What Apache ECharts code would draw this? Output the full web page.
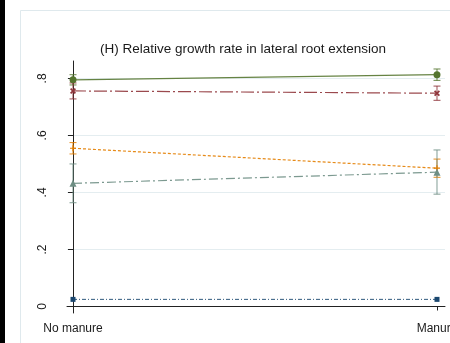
<!DOCTYPE html>
<html>
<head>
<meta charset="utf-8">
<script src="https://cdn.jsdelivr.net/npm/echarts@6/dist/echarts.min.js"></script>
<style>
  html, body { margin: 0; padding: 0; background: #fff; }
  #chart { width: 450px; height: 343px; }
</style>
</head>
<body>
<div id="chart"></div>
<script>
// Treatment groups on the x axis
const categories = ['No manure', 'Manure'];

// Mean relative growth rate per line, one value per treatment group
const greenMean  = [0.795, 0.813];
const maroonMean = [0.756, 0.748];
const orangeMean = [0.555, 0.485];
const tealMean   = [0.432, 0.471];
const navyMean   = [0.025, 0.025];

// Confidence interval bounds (low, high) per treatment group
const greenLow  = [0.777, 0.793];  const greenHigh  = [0.813, 0.833];
const maroonLow = [0.728, 0.723];  const maroonHigh = [0.784, 0.773];
const orangeLow = [0.535, 0.453];  const orangeHigh = [0.575, 0.517];
const tealLow   = [0.364, 0.394];  const tealHigh   = [0.500, 0.549];

// Y axis tick labels
const yTicks = [0, 0.2, 0.4, 0.6, 0.8];
const yTickText = ['0', '.2', '.4', '.6', '.8'];

const FONT = 'Liberation Sans, Arial, sans-serif';

const groups = [
  { name: 'green',  color: '#55752f', mean: greenMean,  low: greenLow,  high: greenHigh,
    symbol: 'circle', size: 7, dash: 'solid', width: 1.3 },
  { name: 'maroon', color: '#90353b', mean: maroonMean, low: maroonLow, high: maroonHigh,
    symbol: 'path://M2,0 L5,3 L8,0 L10,2 L7,5 L10,8 L8,10 L5,7 L2,10 L0,8 L3,5 L0,2 Z', size: 6,
    dash: [13, 3, 2, 3], width: 1.2 },
  { name: 'orange', color: '#e37e00', mean: orangeMean, low: orangeLow, high: orangeHigh,
    symbol: 'path://M4,0 H6 V4 H10 V6 H6 V10 H4 V6 H0 V4 H4 Z', size: 6,
    dash: [3, 2], width: 1.2 },
  { name: 'teal',   color: '#6e8e84', mean: tealMean,   low: tealLow,   high: tealHigh,
    symbol: 'triangle', size: 7, dash: [9, 3, 2, 3], width: 1.2 },
  { name: 'navy',   color: '#1a476f', mean: navyMean,   low: null,      high: null,
    symbol: 'rect', size: 5, dash: [4, 2, 1, 2], width: 1 }
];

const series = [];

// Error bars (vertical range with caps)
groups.forEach(g => {
  if (!g.low) return;
  series.push({
    type: 'custom',
    name: g.name + ' CI',
    z: 3,
    data: categories.map((c, i) => [i, g.low[i], g.high[i]]),
    renderItem(params, api) {
      const x = api.value(0);
      const pLo = api.coord([x, api.value(1)]);
      const pHi = api.coord([x, api.value(2)]);
      const w = 3.5;
      const st = { stroke: g.color, lineWidth: 1.1, opacity: 0.8 };
      return {
        type: 'group',
        children: [
          { type: 'line', shape: { x1: pLo[0], y1: pLo[1], x2: pHi[0], y2: pHi[1] }, style: st },
          { type: 'line', shape: { x1: pLo[0] - w, y1: pLo[1], x2: pLo[0] + w, y2: pLo[1] }, style: st },
          { type: 'line', shape: { x1: pHi[0] - w, y1: pHi[1], x2: pHi[0] + w, y2: pHi[1] }, style: st }
        ]
      };
    }
  });
});

// Connecting lines with markers
groups.forEach(g => {
  series.push({
    type: 'line',
    name: g.name,
    z: 4,
    data: categories.map((c, i) => [i, g.mean[i]]),
    symbol: g.symbol,
    symbolSize: g.size,
    showSymbol: true,
    animation: false,
    itemStyle: { color: g.color },
    lineStyle: { color: g.color, width: g.width, type: g.dash, opacity: 0.9 }
  });
});

const chart = echarts.init(document.getElementById('chart'), null, { renderer: 'canvas' });
chart.setOption({
  animation: false,
  backgroundColor: '#ffffff',
  title: {
    text: '(H) Relative growth rate in lateral root extension',
    left: 238,
    top: 37,
    textAlign: 'center',
    textStyle: { fontFamily: FONT, fontSize: 13.5, fontWeight: 'normal', color: '#1a1a1a' }
  },
  graphic: [
    { type: 'rect', shape: { x: 20.5, y: 10.5, width: 460, height: 360 },
      style: { fill: 'none', stroke: '#dfe9ed', lineWidth: 1 }, z: 0 },
    { type: 'rect', shape: { x: 0, y: 0, width: 5, height: 343 },
      style: { fill: '#000' }, z: 10 }
  ],
  grid: { left: 67, right: 5, top: 61, bottom: 30, containLabel: false, outerBoundsMode: 'none' },
  xAxis: {
    type: 'value',
    min: -0.0165,
    max: 1.022,
    axisLine: { show: true, lineStyle: { color: '#222', width: 1 } },
    axisTick: { show: true, length: 4, customValues: [0, 1], lineStyle: { color: '#222' } },
    axisLabel: {
      customValues: [0, 1],
      formatter: v => categories[Math.round(v)],
      margin: 10,
      alignMinLabel: 'center',
      alignMaxLabel: 'center',
      hideOverlap: false,
      overflow: 'none',
      fontFamily: FONT, fontSize: 12, color: '#1a1a1a'
    },
    splitLine: { show: false }
  },
  yAxis: {
    type: 'value',
    min: -0.0228,
    max: 0.861,
    axisLine: { show: true, lineStyle: { color: '#222', width: 1 } },
    axisTick: { show: true, length: 5, customValues: yTicks, lineStyle: { color: '#222' } },
    axisLabel: {
      customValues: yTicks,
      formatter: v => yTickText[yTicks.findIndex(t => Math.abs(t - v) < 1e-6)],
      rotate: 90,
      margin: 18,
      fontFamily: FONT, fontSize: 12, color: '#1a1a1a'
    },
    splitLine: { show: true, lineStyle: { color: '#e4edf0', width: 1 } }
  },
  series
});
</script>
</body>
</html>
